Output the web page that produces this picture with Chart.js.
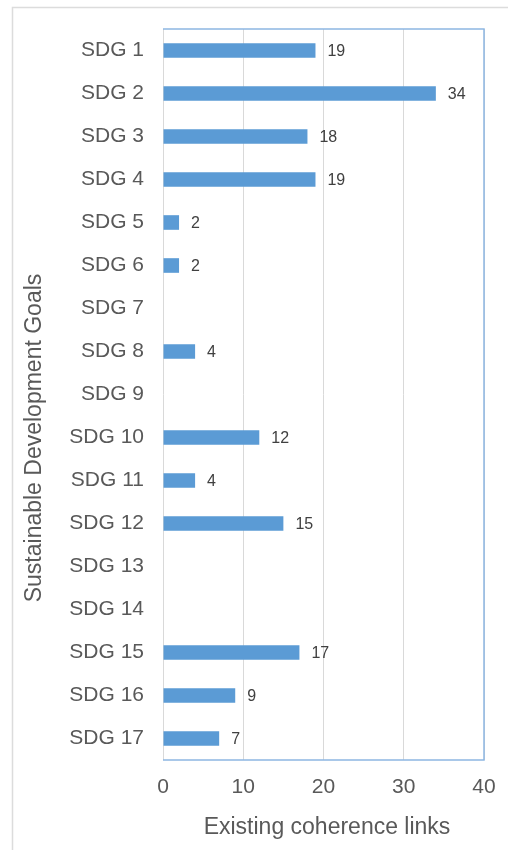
<!DOCTYPE html>
<html>
<head>
<meta charset="utf-8">
<script src="https://cdn.jsdelivr.net/npm/chart.js@4/dist/chart.umd.min.js"></script>
<style>
  html, body { margin: 0; padding: 0; background: #fff; }
  #wrap { width: 508px; height: 850px; position: relative; }
</style>
</head>
<body>
<div id="wrap"><canvas id="grafico" width="508" height="850"></canvas></div>
<script>
const categorias = ['SDG 1', 'SDG 2', 'SDG 3', 'SDG 4', 'SDG 5', 'SDG 6', 'SDG 7', 'SDG 8', 'SDG 9',
    'SDG 10', 'SDG 11', 'SDG 12', 'SDG 13', 'SDG 14', 'SDG 15', 'SDG 16', 'SDG 17'];
const ligacoes = [19, 34, 18, 19, 2, 2, 0, 4, 0, 12, 4, 15, 0, 0, 17, 9, 7];
const ticksX = [0, 10, 20, 30, 40];
const tituloX = 'Existing coherence links';
const tituloY = 'Sustainable Development Goals';

const FONTE = '"Liberation Sans", Arial, sans-serif';
const CINZA = '#595959';

// moldura externa, borda azul da area e titulos dos eixos
const extras = {
    id: 'extras',
    beforeDraw(chart) {
        const ctx = chart.ctx;
        ctx.save();
        ctx.fillStyle = '#fff';
        ctx.fillRect(0, 0, chart.width, chart.height);
        ctx.strokeStyle = '#dcdcdc';
        ctx.lineWidth = 1.5;
        ctx.beginPath();
        ctx.moveTo(12.5, chart.height);
        ctx.lineTo(12.5, 7.5);
        ctx.lineTo(chart.width, 7.5);
        ctx.stroke();
        ctx.restore();
    },
    afterDraw(chart) {
        const ctx = chart.ctx;
        const a = chart.chartArea;
        ctx.save();
        ctx.strokeStyle = '#8db6e2';
        ctx.lineWidth = 1.5;
        ctx.beginPath();
        ctx.moveTo(a.left, a.top);
        ctx.lineTo(a.right, a.top);
        ctx.lineTo(a.right, a.bottom);
        ctx.lineTo(a.left, a.bottom);
        ctx.stroke();

        // rotulos de valor
        const meta = chart.getDatasetMeta(0);
        ctx.fillStyle = '#404040';
        ctx.font = '16px ' + FONTE;
        ctx.textAlign = 'left';
        ctx.textBaseline = 'middle';
        meta.data.forEach((bar, i) => {
            if (!ligacoes[i]) return;
            ctx.fillText(String(ligacoes[i]), bar.x + 12, bar.y + 1);
        });

        // titulos
        ctx.fillStyle = CINZA;
        ctx.font = '23px ' + FONTE;
        ctx.textAlign = 'center';
        ctx.fillText(tituloX, 327, 828);
        ctx.translate(35, 438);
        ctx.rotate(-Math.PI / 2);
        ctx.fillText(tituloY, 0, 0);
        ctx.restore();
    }
};

new Chart(document.getElementById('grafico'), {
    type: 'bar',
    data: {
        labels: categorias,
        datasets: [{
            data: ligacoes,
            backgroundColor: '#5b9bd5',
            borderWidth: 0,
            barPercentage: 0.68,
            categoryPercentage: 0.5
        }]
    },
    options: {
        indexAxis: 'y',
        responsive: false,
        animation: false,
        layout: { padding: { top: 29, right: 24, left: 0, bottom: 0 } },
        plugins: { legend: { display: false }, tooltip: { enabled: false } },
        scales: {
            x: {
                min: 0,
                max: 40,
                afterBuildTicks(scale) { scale.ticks = ticksX.map(v => ({ value: v })); },
                afterFit(scale) { scale.height = 90; scale.paddingRight = 0; },
                grid: { color: '#d9d9d9', lineWidth: 1, drawTicks: false },
                border: { display: false },
                ticks: { color: CINZA, font: { size: 21, family: FONTE }, padding: 15 }
            },
            y: {
                afterFit(scale) { scale.width = 163; },
                grid: { display: false },
                border: { display: false },
                ticks: { color: CINZA, font: { size: 21, family: FONTE }, padding: 11, autoSkip: false }
            }
        }
    },
    plugins: [extras]
});
</script>
</body>
</html>
